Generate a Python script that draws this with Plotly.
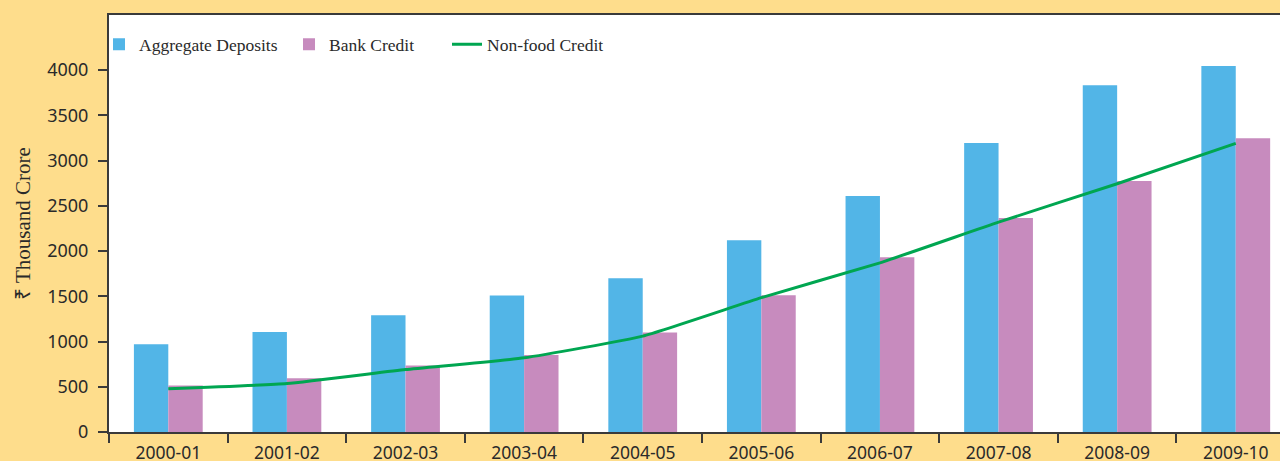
import plotly.graph_objects as go

years = ["2000-01", "2001-02", "2002-03", "2003-04", "2004-05",
         "2005-06", "2006-07", "2007-08", "2008-09", "2009-10"]
aggregate_deposits = [970, 1105, 1290, 1510, 1700, 2120, 2608, 3195, 3834, 4045]
bank_credit = [515, 595, 735, 850, 1100, 1512, 1932, 2365, 2775, 3248]
nonfood_credit = [478, 535, 690, 820, 1060, 1485, 1870, 2320, 2745, 3190]
y_ticks = [0, 500, 1000, 1500, 2000, 2500, 3000, 3500, 4000]

BG = "#FEDD8C"
AXIS = "#3a3a3a"
TXT = "#2a2a2a"

fig = go.Figure()
fig.add_trace(go.Bar(x=years, y=aggregate_deposits, name="Aggregate Deposits",
                     marker=dict(color="#52B5E7", line=dict(width=0)), legend="legend"))
fig.add_trace(go.Bar(x=years, y=bank_credit, name="Bank Credit",
                     marker=dict(color="#C78BBE", line=dict(width=0)), legend="legend2"))
fig.add_trace(go.Scatter(x=years, y=nonfood_credit, name="Non-food Credit",
                         mode="lines", legend="legend3",
                         line=dict(color="#00A651", width=3, shape="spline", smoothing=0.4)))

legend_font = dict(family="Liberation Serif", size=17.5, color=TXT)
def leg(xpix):
    return dict(orientation="h", x=(xpix - 109) / 1171, y=0.973, xanchor="left",
                yanchor="top", xref="paper", bgcolor="rgba(0,0,0,0)",
                font=legend_font, itemwidth=30)

fig.update_layout(
    width=1280, height=461,
    margin=dict(l=109, r=0, t=15, b=29, autoexpand=False),
    paper_bgcolor=BG, plot_bgcolor="white",
    barmode="group", bargap=0.42, bargroupgap=0,
    showlegend=True,
    legend=leg(99), legend2=leg(289), legend3=leg(447),
    xaxis=dict(type="category", range=[-0.5, 9.373], showline=True, linecolor=AXIS,
               linewidth=2, mirror=True, ticks="outside", ticklen=9, tickcolor=AXIS,
               tickwidth=1.5, tickson="boundaries", showgrid=False, zeroline=False,
               automargin=False, ticklabelstandoff=4,
               tickfont=dict(family="Noto Sans", size=17.5, color=TXT)),
    yaxis=dict(range=[0, 4610], tickvals=y_ticks, showline=True, linecolor=AXIS,
               linewidth=2, ticks="outside", ticklen=9, tickcolor=AXIS, tickwidth=1.5,
               showgrid=False, zeroline=False, automargin=False, ticklabelstandoff=6,
               tickfont=dict(family="Noto Sans", size=18, color=TXT),
               title=dict(text="₹ Thousand Crore", standoff=11,
                          font=dict(family="Liberation Serif", size=21, color=TXT))),
)

fig.write_html("out.html", config={"displayModeBar": False},
               post_script="document.body.style.margin='0px';document.body.style.background='#FEDD8C';")
